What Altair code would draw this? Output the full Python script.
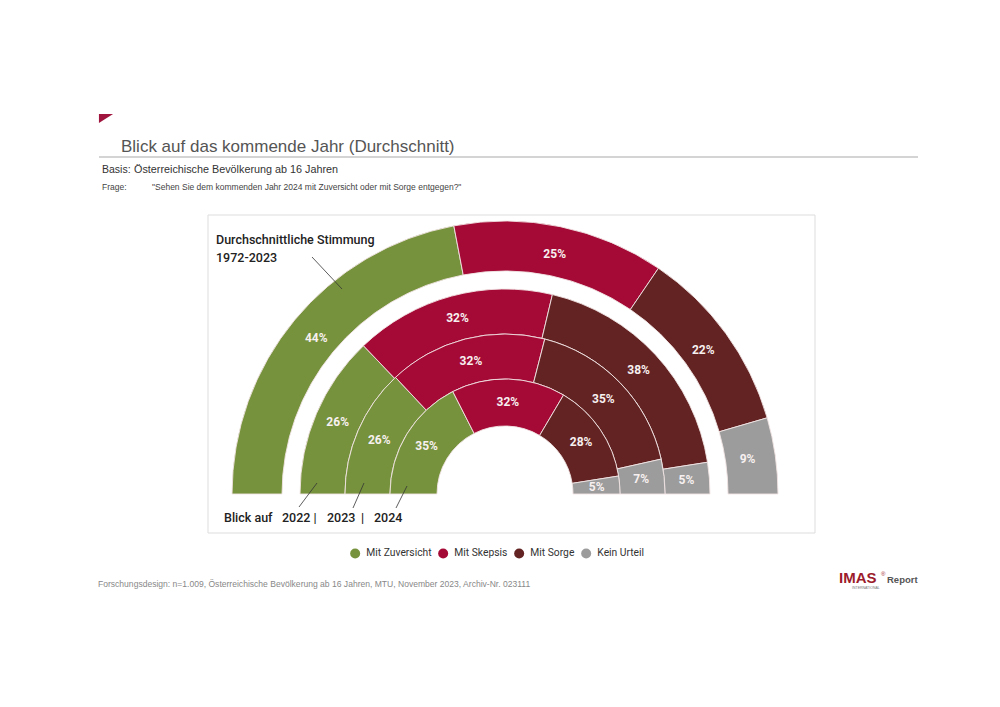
import math
import altair as alt
import pandas as pd

# ---- data ----
rings = ["Durchschnitt 1972-2023", "2022", "2023", "2024"]
categories = ["Mit Zuversicht", "Mit Skepsis", "Mit Sorge", "Kein Urteil"]
colors = ["#76923c", "#a50a36", "#632323", "#9c9c9c"]
avg_1972_2023 = [44, 25, 22, 9]
year_2022 = [26, 32, 38, 5]
year_2023 = [26, 32, 35, 7]
year_2024 = [35, 32, 28, 5]

ring_values = [avg_1972_2023, year_2022, year_2023, year_2024]
rows = []
for ring, vals in zip(rings, ring_values):
    for i, (cat, v) in enumerate(zip(categories, vals)):
        rows.append({"ring": ring, "cat": cat, "ord": i, "value": v, "label": f"{v}%"})
df = pd.DataFrame(rows)

# ---- layout (chart coordinates = page - 8) ----
O = 8
def px(x):
    return x - O

CX, CY = px(505), px(494)
radii = {  # outer, inner, label radius
    rings[0]: (273, 223, 245),
    rings[1]: (205, 160, 182),
    rings[2]: (160, 115, 137),
    rings[3]: (115, 68, 92),
}

theta_scale = alt.Scale(range=[-math.pi / 2, math.pi / 2])
color_enc = alt.Color(
    "cat:N",
    scale=alt.Scale(domain=categories, range=colors),
    legend=alt.Legend(
        title=None, orient="none", legendX=px(350), legendY=px(548),
        direction="horizontal", symbolType="circle", symbolSize=100,
        symbolStrokeWidth=0, labelFont="Roboto", labelFontSize=10.3,
        labelColor="#333333", columnPadding=6, labelOffset=6,
    ),
)

layers = []

# chart frame
layers.append(
    alt.Chart(pd.DataFrame({"a": [0]})).mark_rect(
        fill="white", stroke="#dddddd", strokeWidth=1
    ).encode(x=alt.value(px(208)), x2=alt.value(px(815)),
             y=alt.value(px(215)), y2=alt.value(px(533)))
)

for ring in rings:
    ro, ri, rl = radii[ring]
    base = alt.Chart(df).transform_filter(alt.datum.ring == ring)
    arc = base.mark_arc(radius=ro, radius2=ri, stroke="#f2e4e4", strokeWidth=0.9).encode(
        theta=alt.Theta("value:Q", stack="normalize", scale=theta_scale),
        order=alt.Order("ord:Q"),
        color=color_enc,
        x=alt.value(CX), y=alt.value(CY),
    )
    txt = base.mark_text(
        radius=rl, font="Roboto", fontSize=12, fontWeight="bold",
        color="#f7f0f0",
    ).encode(
        theta=alt.Theta("value:Q", stack="normalize", scale=theta_scale),
        order=alt.Order("ord:Q"),
        text="label:N",
        x=alt.value(CX), y=alt.value(CY),
    )
    layers += [arc, txt]

one = pd.DataFrame({"a": [0]})

def text(t, x, y, size, color="#333333", font="Liberation Sans", weight="normal", align="left"):
    return alt.Chart(one).mark_text(
        text=t, font=font, fontSize=size, color=color, fontWeight=weight,
        align=align, baseline="middle",
    ).encode(x=alt.value(px(x)), y=alt.value(px(y)))

def rule(x1, y1, x2, y2, color="#333333", w=0.8):
    return alt.Chart(one).mark_rule(color=color, strokeWidth=w).encode(
        x=alt.value(px(x1)), y=alt.value(px(y1)),
        x2=alt.value(px(x2)), y2=alt.value(px(y2)),
    )

# header
layers.append(
    alt.Chart(one).mark_point(
        shape="M -1 -1 L 1 -1 L -1 0.3 Z", filled=True, size=200,
        color="#a0153e", opacity=1,
    ).encode(x=alt.value(px(106)), y=alt.value(px(121)))
)
layers.append(text("Blick auf das kommende Jahr (Durchschnitt)", 121, 147, 17, "#555555"))
layers.append(rule(99, 157, 918, 157, "#aaaaaa", 1.2))
layers.append(text("Basis:", 102, 170, 10.5, "#333333"))
layers.append(text("Österreichische Bevölkerung ab 16 Jahren", 134, 170, 10.8, "#333333"))
layers.append(text("Frage:", 102, 187, 8.5, "#444444"))
layers.append(text('"Sehen Sie dem kommenden Jahr 2024 mit Zuversicht oder mit Sorge entgegen?"', 152, 187, 8.5, "#444444"))

# annotations
layers.append(text("Durchschnittliche Stimmung", 216, 240, 12.5, "#222222", "Roboto", 500))
layers.append(text("1972-2023", 216, 258, 12.5, "#222222", "Roboto", 500))
layers.append(rule(312, 257, 342, 289, "#333333", 0.8))

layers.append(text("Blick auf", 224, 518, 12.5, "#222222", "Roboto", 500))
layers.append(text("2022 |", 282, 518, 12.5, "#222222", "Roboto", 500))
layers.append(text("2023", 327, 518, 12.5, "#222222", "Roboto", 500))
layers.append(text("|", 361, 518, 12.5, "#222222", "Roboto", 500))
layers.append(text("2024", 374, 518, 12.5, "#222222", "Roboto", 500))
layers.append(rule(299, 507, 317, 483))
layers.append(rule(353, 508, 364, 483))
layers.append(rule(396, 508, 407, 486))

# footer
layers.append(text("Forschungsdesign: n=1.009, Österreichische Bevölkerung ab 16 Jahren, MTU, November 2023, Archiv-Nr. 023111", 98, 584, 8.55, "#888888"))
layers.append(text("IMAS", 839, 578, 15, "#9c1c2c", "Liberation Sans", "bold"))
layers.append(text("®", 881, 574, 6, "#9c1c2c"))
layers.append(text("Report", 887, 580, 9.5, "#555555", "Liberation Sans", "bold"))
layers.append(text("INTERNATIONAL", 852, 588, 3.5, "#777777"))

chart = alt.layer(*layers).properties(
    width=984, height=691,
    autosize=alt.AutoSizeParams(type="none"),
    padding=0,
).configure_view(strokeWidth=0)

chart.save("out.html", embed_options={"renderer": "svg", "actions": False})
